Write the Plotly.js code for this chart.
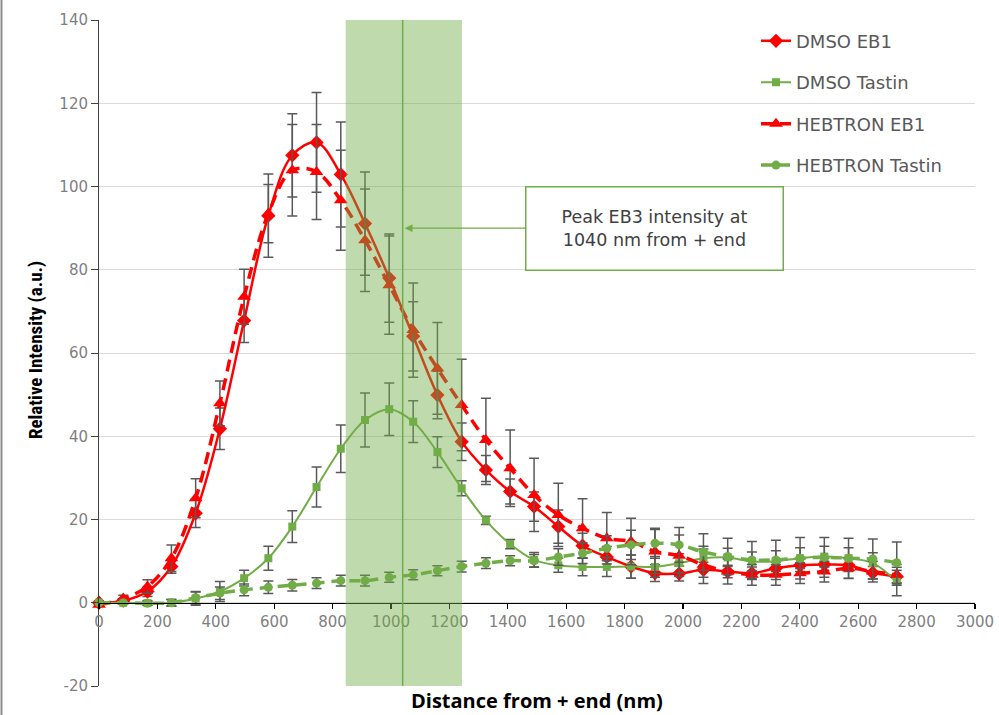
<!DOCTYPE html>
<html>
<head>
<meta charset="utf-8">
<script src="https://cdn.plot.ly/plotly-3.0.1.min.js"></script>
<style>
html,body{margin:0;padding:0;background:#ffffff;}
#chart{width:999px;height:715px;}
</style>
</head>
<body>
<div id="chart"></div>
<script>
// Distance from + end (nm)
const distance = [0,83,166,248,331,414,497,580,662,745,828,911,994,1076,1159,1242,1325,1408,1490,1573,1656,1739,1822,1904,1987,2070,2153,2236,2318,2401,2484,2567,2650,2732];

const dmsoEB1 = [0,0.5,2.7,8.7,21.5,41.8,67.8,93.0,107.5,110.6,102.9,91.1,78.0,64.0,49.9,38.7,31.9,26.7,23.1,18.3,13.7,11.0,8.7,7.1,7.0,7.9,7.5,7.1,8.3,9.0,9.2,9.0,7.2,6.3];
const dmsoEB1Err = [0.3,0.5,1.2,1.6,3.4,5.0,5.3,10.0,10.0,12.0,12.6,12.4,10.6,8.3,5.7,4.5,3.5,3.0,3.5,4.0,3.0,2.5,2.8,2.0,1.8,1.8,1.5,1.5,1.5,1.5,1.5,1.5,1.5,1.5];

const dmsoTastin = [0,0,-0.1,0,1.0,2.7,5.9,10.7,18.3,27.8,37.0,43.9,46.5,43.5,36.2,27.5,19.8,14.1,10.3,9.0,8.6,8.6,8.7,8.6,9.5,10.7,10.9,9.9,10.0,10.7,11.1,10.7,9.5,5.1];
const dmsoTastinErr = [0.3,0.3,0.5,0.8,1.6,2.4,1.9,2.9,3.8,4.8,5.7,6.5,6.3,5.0,3.7,1.8,1.0,1.1,1.8,1.7,2.1,2.3,2.8,2.5,2.3,2.2,2.2,2.3,2.5,2.5,2.5,2.5,2.5,3.4];

const hebEB1 = [-0.5,1.0,3.9,10.7,25.1,47.9,73.5,93.5,103.9,103.5,96.7,87.1,76.3,65.5,56.3,47.5,39.1,32.3,25.9,21.1,17.9,15.5,14.7,12.3,11.3,9.1,7.5,6.7,6.7,7.1,7.5,8.3,7.5,6.7];
const hebEB1Err = [0.3,0.8,1.6,3.2,4.7,5.4,6.6,7.0,11.0,11.4,12.0,12.3,11.8,11.3,11.0,11.0,10.0,9.2,8.8,7.6,7.1,6.2,5.6,5.3,5.0,4.5,3.0,2.5,2.5,2.5,2.5,2.5,2.5,2.5];

const hebTastin = [0,0,-0.1,0,1.2,2.3,3.1,3.7,4.2,4.7,5.3,5.3,6.1,6.7,7.7,8.7,9.5,10.1,10.1,11.0,11.9,13.1,13.9,14.3,13.9,12.2,11.1,10.3,10.3,10.7,10.9,10.7,10.5,9.6];
const hebTastinErr = [0.3,0.3,0.5,0.8,1.5,1.5,1.4,1.5,1.4,1.3,1.3,1.3,1.2,1.2,1.2,1.3,1.3,1.2,1.5,2.0,2.5,3.0,3.5,3.6,4.2,4.4,4.4,4.4,4.7,5.0,4.8,4.8,4.8,5.0];

const seriesNames = ['DMSO EB1','DMSO Tastin','HEBTRON EB1','HEBTRON Tastin'];
const xTicks = [0,200,400,600,800,1000,1200,1400,1600,1800,2000,2200,2400,2600,2800,3000];
const yTicks = [-20,0,20,40,60,80,100,120,140];
const yTickText = ['-20','0','20','40','60','80','100','120','140'];
const bandStart = 845, bandEnd = 1243, peakX = 1040;
const noteText = 'Peak EB3 intensity at<br>1040 nm from + end';

const RED = '#ff0000', GREEN = '#70ad47';
const errStyle = (arr) => ({type:'data', array:arr, visible:true, color:'#595959', thickness:1.5, width:5});

const traces = [
  {name:seriesNames[0], x:distance, y:dmsoEB1, mode:'lines+markers', legendgroup:'g1',
   line:{color:RED, width:2.5, shape:'spline', smoothing:1},
   marker:{symbol:'diamond', size:11, color:RED}, error_y:errStyle(dmsoEB1Err), cliponaxis:false},
  {name:seriesNames[1], x:distance, y:dmsoTastin, mode:'lines+markers', legendgroup:'g2',
   line:{color:GREEN, width:2, shape:'spline', smoothing:1},
   marker:{symbol:'square', size:8, color:GREEN}, error_y:errStyle(dmsoTastinErr), cliponaxis:false},
  {name:seriesNames[2], x:distance, y:hebEB1, mode:'lines+markers', legendgroup:'g3',
   line:{color:RED, width:3.5, shape:'spline', smoothing:1, dash:'12px,7px'},
   marker:{symbol:'triangle-up', size:12, color:RED}, error_y:errStyle(hebEB1Err), cliponaxis:false},
  {name:seriesNames[3], x:distance, y:hebTastin, mode:'lines+markers', legendgroup:'g4',
   line:{color:GREEN, width:3.5, shape:'spline', smoothing:1, dash:'11px,7px'},
   marker:{symbol:'circle', size:9, color:GREEN}, error_y:errStyle(hebTastinErr), cliponaxis:false}
];

const layout = {
  width:999, height:715,
  margin:{l:99, r:24, t:20, b:29},
  paper_bgcolor:'#ffffff', plot_bgcolor:'#ffffff',
  showlegend:true,
  legend:{x:0.75, y:0.996, xanchor:'left', yanchor:'top', bgcolor:'rgba(0,0,0,0)',
          font:{family:'DejaVu Sans', size:18, color:'#595959'},
          traceorder:'grouped', tracegroupgap:15},
  xaxis:{range:[0,3000], tickvals:xTicks, anchor:'free', position:0.125,
         showline:true, linecolor:'#000000', linewidth:1.5,
         ticks:'outside', ticklen:5, tickcolor:'#000000', tickwidth:1.2,
         showgrid:false, zeroline:false,
         tickfont:{family:'DejaVu Sans', size:15, color:'#7f7f7f'}},
  yaxis:{range:[-20,140], tickvals:yTicks, ticktext:yTickText,
         showline:true, linecolor:'#404040', linewidth:1,
         ticks:'outside', ticklen:7, tickcolor:'#404040',
         showgrid:true, gridcolor:'#d9d9d9', gridwidth:1, zeroline:false,
         tickfont:{family:'DejaVu Sans', size:15, color:'#7f7f7f'}},
  shapes:[
    {type:'rect', xref:'x', yref:'paper', x0:bandStart, x1:bandEnd, y0:0, y1:1,
     fillcolor:'rgba(112,173,71,0.45)', line:{width:0}, layer:'above'},
    {type:'line', xref:'x', yref:'paper', x0:peakX, x1:peakX, y0:0, y1:1,
     line:{color:GREEN, width:1.5}, layer:'above'},
    {type:'line', xref:'paper', yref:'paper', x0:-0.1113, x1:-0.1113, y0:-0.06, y1:1.05,
     line:{color:'#8c8c8c', width:2}, layer:'above'}
  ],
  annotations:[
    {x:1047, y:90, xref:'x', yref:'y', ax:1901, ay:90, axref:'x', ayref:'y',
     text:noteText, showarrow:true, arrowhead:2, arrowsize:1.3, arrowwidth:1.2, arrowcolor:GREEN,
     font:{family:'DejaVu Sans', size:17.5, color:'#404040'},
     bgcolor:'#ffffff', bordercolor:GREEN, borderwidth:1.5, borderpad:3,
     width:250, height:76, align:'center'},
    {x:0.5, y:-0.0225, xref:'paper', yref:'paper', showarrow:false,
     text:'Distance from + end (nm)', xanchor:'center', yanchor:'middle',
     font:{family:'Open Sans', size:20, color:'#000000', weight:700}},
    {x:-0.073, y:0.5045, xref:'paper', yref:'paper', showarrow:false, textangle:-90,
     text:'Relative Intensity (a.u.)', xanchor:'center', yanchor:'middle',
     font:{family:'Liberation Sans Narrow, Roboto Condensed, Roboto', size:19, color:'#000000', weight:700}}
  ]
};

Plotly.newPlot('chart', traces, layout, {displayModeBar:false, staticPlot:true});
</script>
</body>
</html>
